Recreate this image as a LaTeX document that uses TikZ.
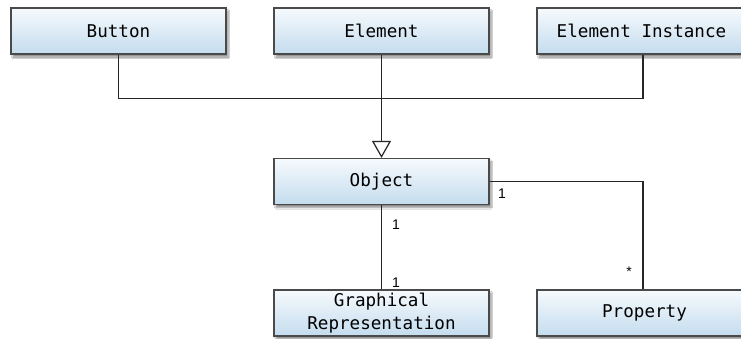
\documentclass[tikz,border=0pt]{standalone}
\usepackage{fontspec}
\newfontfamily\boxfont{DejaVu Sans Mono}
\newfontfamily\labfont{Liberation Sans}
\usetikzlibrary{arrows.meta,shadows.blur}
\definecolor{boxtop}{HTML}{F6FAFD}
\definecolor{boxbottom}{HTML}{C4DCEE}
\definecolor{boxedge}{HTML}{4A4A4A}
\definecolor{wire}{HTML}{262626}
\tikzset{
  classbox/.style={draw=boxedge, line width=1.2pt, rectangle,
    top color=boxtop, bottom color=boxbottom,
    minimum width=215pt, minimum height=46pt, inner sep=0pt,
    font=\boxfont\fontsize{17.6}{23.5}\selectfont, align=center,
    blur shadow={shadow xshift=2pt, shadow yshift=-3pt, shadow blur steps=6, shadow opacity=45}},
  wideclass/.style={classbox, minimum width=235pt},
  wireline/.style={draw=wire, line width=1.3pt},
  mult/.style={font=\labfont\fontsize{14}{16}\selectfont, inner sep=0pt, text=black}
}
\begin{document}
\begin{tikzpicture}[x=1pt,y=-1pt]
  \useasboundingbox (0,0) rectangle (741,338);
  \clip (0,0) rectangle (741,338);
  \fill[white] (0,0) rectangle (741,338);

  % class boxes (the two on the right run past the page edge)
  \node[classbox]  (button) at (118.5,31) {Button};
  \node[classbox]  (elem)   at (381.5,31) {Element};
  \node[wideclass] (inst)   at (654.5,31) {Element Instance\hspace*{26pt}};
  \node[classbox]  (obj)    at (381.5,181.5) {Object};
  \node[classbox]  (graph)  at (381.5,313) {Graphical\\Representation};
  \node[wideclass] (prop)   at (654.5,313) {Property\hspace*{20pt}};

  % attachment points on the two wide boxes
  \coordinate (instfoot) at ([xshift=-11.5pt]inst.south);
  \coordinate (prophead) at ([xshift=-11.5pt]prop.north);

  % generalization: Button, Element, Element Instance -> Object
  \draw[wireline] (button.south) -- ++(0,44) coordinate (bar) -| (instfoot);
  \draw[wireline, -{Triangle[open, width=19pt, length=17pt, line width=1.2pt]}]
    (elem.south) -- (obj.north);

  % associations
  \draw[wireline] (obj.east) -| (prophead);
  \draw[wireline] (obj.south) -- (graph.north);

  % multiplicities
  \node[mult] (m1) at (502,194) {1};
  \node[mult] (m2) at (396,225) {1};
  \node[mult] (m3) at (396,283) {1};
  \node[mult] (m4) at (629,272) {*};
\end{tikzpicture}
\end{document}
